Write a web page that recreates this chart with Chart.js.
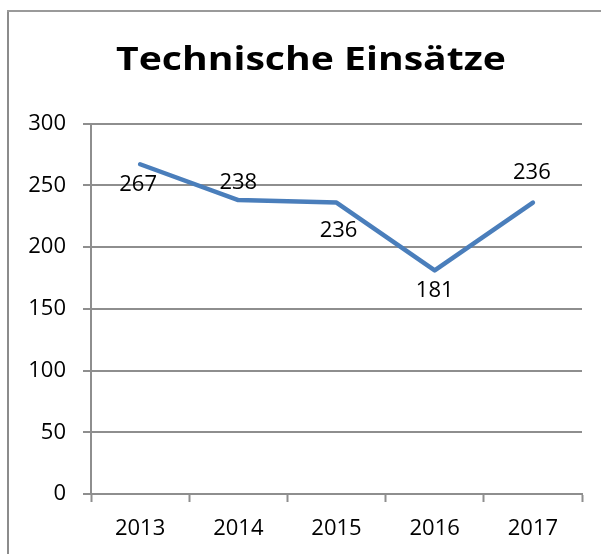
<!DOCTYPE html>
<html>
<head>
<meta charset="utf-8">
<script src="https://cdn.jsdelivr.net/npm/chart.js@4/dist/chart.umd.min.js"></script>
<style>
  html, body { margin: 0; padding: 0; background: #ffffff; }
  #wrap { position: relative; width: 601px; height: 554px; overflow: hidden; }
  #chart { position: absolute; left: 0; top: 0; }
  .frameL { position: absolute; left: 7px; top: 10px; width: 2px; height: 544px; background: #8c8c8c; }
  .frameT { position: absolute; left: 7px; top: 10px; width: 594px; height: 2px; background: #9a9a9a; }
</style>
</head>
<body>
<div id="wrap">
  <canvas id="chart" width="601" height="554"></canvas>
  <div class="frameL"></div>
  <div class="frameT"></div>
</div>
<script>
const titleText = 'Technische Einsätze';
const categories = ['2013', '2014', '2015', '2016', '2017'];
const values = [267, 238, 236, 181, 236];
const yTicks = [0, 50, 100, 150, 200, 250, 300];

const FONT = "'Open Sans', 'Noto Sans', sans-serif";
const GRID = '#8e8e8e';

const valueLabels = {
  id: 'valueLabels',
  afterDatasetsDraw(chart, args, opts) {
    const ctx = chart.ctx;
    const meta = chart.getDatasetMeta(0);
    const data = chart.data.datasets[0].data;
    ctx.save();
    ctx.font = opts.font;
    ctx.fillStyle = opts.color;
    ctx.textAlign = 'center';
    ctx.textBaseline = 'middle';
    meta.data.forEach((el, i) => {
      const off = opts.offsets[i] || [0, 0];
      ctx.fillText(String(data[i]), el.x + off[0], el.y + off[1]);
    });
    ctx.restore();
  }
};

const chartTitle = {
  id: 'chartTitle',
  afterDraw(chart, args, opts) {
    const ctx = chart.ctx;
    ctx.save();
    ctx.font = opts.font;
    ctx.fillStyle = opts.color;
    ctx.textAlign = 'center';
    ctx.textBaseline = 'alphabetic';
    const w = ctx.measureText(opts.text).width || 1;
    const sx = opts.width / w;
    ctx.translate(opts.x, opts.y);
    ctx.scale(sx, 1);
    ctx.fillText(opts.text, 0, 0);
    ctx.restore();
  }
};

new Chart(document.getElementById('chart'), {
  type: 'line',
  data: {
    labels: categories,
    datasets: [{
      data: values,
      borderColor: '#4a7ebb',
      borderWidth: 4.5,
      borderCapStyle: 'round',
      borderJoinStyle: 'round',
      tension: 0,
      pointRadius: 0,
      pointHoverRadius: 0,
      fill: false
    }]
  },
  options: {
    responsive: false,
    animation: false,
    events: [],
    layout: { padding: { left: 0, right: 19, top: 123.5, bottom: 0 } },
    plugins: {
      legend: { display: false },
      tooltip: { enabled: false },
      title: { display: false },
      chartTitle: {
        text: titleText,
        font: "bold 32px " + FONT,
        color: '#000000',
        x: 311,
        y: 69.5,
        width: 390
      },
      valueLabels: {
        font: "22px " + FONT,
        color: '#000000',
        offsets: [[-2, 20], [0, -17], [2, 28], [0, 20], [-1, -30]]
      }
    },
    scales: {
      x: {
        type: 'category',
        offset: true,
        afterFit(scale) { scale.height = 60; },
        grid: {
          offset: true,
          drawOnChartArea: false,
          drawTicks: true,
          tickLength: 8,
          tickWidth: 2,
          tickColor: GRID
        },
        border: { display: true, color: GRID, width: 2 },
        ticks: {
          color: '#000000',
          font: { family: FONT, size: 22 },
          padding: 14,
          maxRotation: 0
        }
      },
      y: {
        min: 0,
        max: 300,
        afterFit(scale) { scale.width = 91; },
        afterBuildTicks(scale) { scale.ticks = yTicks.map(v => ({ value: v })); },
        grid: {
          color: GRID,
          lineWidth: 2,
          drawTicks: true,
          tickLength: 8,
          tickWidth: 2,
          tickColor: GRID
        },
        border: { display: true, color: GRID, width: 2 },
        ticks: {
          color: '#000000',
          font: { family: FONT, size: 22 },
          padding: 17
        }
      }
    }
  },
  plugins: [valueLabels, chartTitle]
});
</script>
</body>
</html>
